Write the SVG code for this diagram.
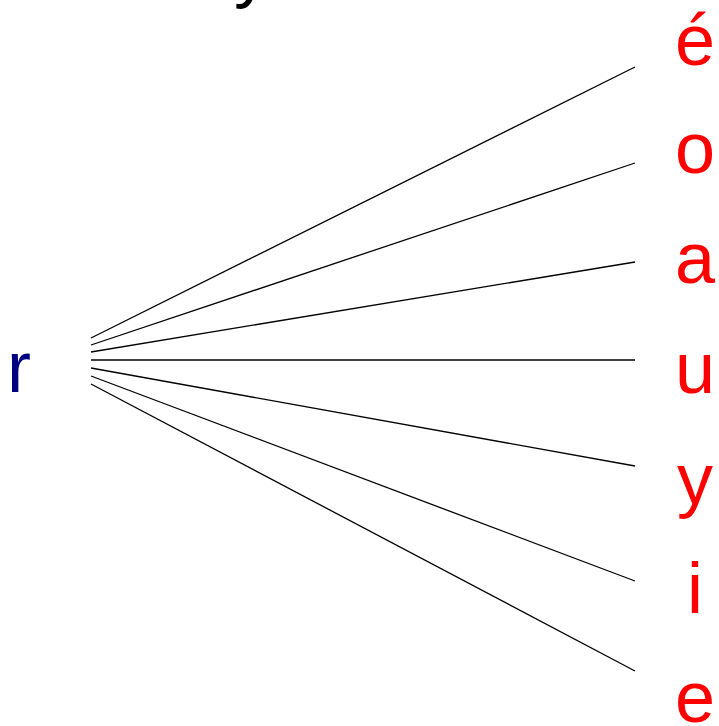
<svg xmlns="http://www.w3.org/2000/svg" width="719" height="726" viewBox="0 0 719 726">
<style>
text{font-family:"Liberation Sans",Arial,sans-serif;font-size:72px}
.t{fill:#ff0000;text-anchor:middle}
.s{fill:#000080}
.h{fill:#000000}
line{stroke:#000;stroke-width:1.3}
</style>
<rect width="719" height="726" fill="#fff"/>
<g id="connectors">
<line x1="91" y1="338" x2="635" y2="67"/>
<line x1="91" y1="345" x2="635" y2="163"/>
<line x1="91" y1="352" x2="635" y2="262"/>
<line x1="91" y1="360" x2="635" y2="360"/>
<line x1="91" y1="368" x2="635" y2="466"/>
<line x1="91" y1="376" x2="635" y2="581"/>
<line x1="91" y1="384" x2="635" y2="671"/>
</g>
<g id="top"><text class="h" x="234" y="-6">y</text></g>
<g id="src"><text class="s" x="7" y="392">r</text></g>
<g id="n1"><text class="t" x="695" y="65">é</text></g>
<g id="n2"><text class="t" x="695" y="173">o</text></g>
<g id="n3"><text class="t" x="695" y="283">a</text></g>
<g id="n4"><text class="t" x="695" y="393">u</text></g>
<g id="n5"><text class="t" x="695" y="504">y</text></g>
<g id="n6"><text class="t" x="695" y="613">i</text></g>
<g id="n7"><text class="t" x="695" y="722">e</text></g>
</svg>
